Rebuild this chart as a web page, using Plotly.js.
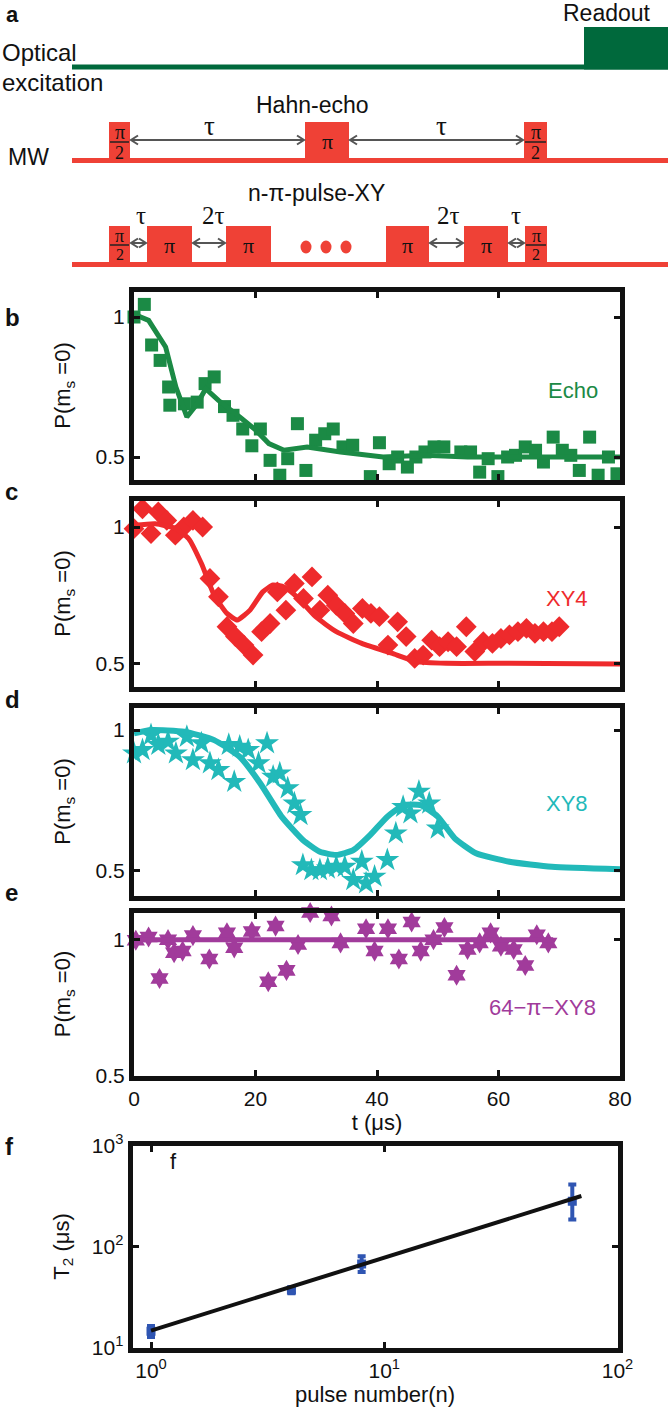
<!DOCTYPE html>
<html><head><meta charset="utf-8">
<script src="https://cdn.plot.ly/plotly-3.0.1.min.js"></script>
<style>html,body{margin:0;padding:0;background:#fff}#chart{width:668px;height:1419px}</style>
</head><body><div id="chart"></div>
<script>
// ---------- DATA ----------
const tTicks = [0, 20, 40, 60, 80];
const pTicks = [0.5, 1];
const pTickText = ['0.5', '1'];

// b: Hahn echo
const echoT = [0,1.7,2.9,4.3,5.7,5.9,8.3,10.4,11.7,13.2,14.9,16.3,17.9,19.4,20.8,22.4,24.0,25.3,26.9,28.3,29.9,31.4,32.8,34.4,36.0,37.5,38.9,40.4,42.0,43.4,45.0,46.4,47.9,49.4,51.0,53.8,55.4,56.9,58.3,59.9,61.5,62.8,64.4,66.1,67.4,69.0,70.5,71.9,73.3,75.0,76.4,78.1,79.5];
const echoP = [1.0,1.045,0.9,0.845,0.75,0.685,0.69,0.696,0.762,0.786,0.68,0.649,0.60,0.54,0.60,0.488,0.435,0.494,0.619,0.452,0.56,0.583,0.60,0.536,0.542,0.405,0.43,0.551,0.476,0.5,0.464,0.5,0.518,0.536,0.536,0.518,0.518,0.446,0.494,0.43,0.5,0.506,0.536,0.524,0.482,0.571,0.524,0.506,0.452,0.571,0.435,0.5,0.44];
const echoFitT = [0,2.4,5.2,6.9,8.7,10.4,11.8,13.9,17.4,20.1,22.2,24.7,28.5,34,41,47.9,54.9,61.8,68.8,80];
const echoFitP = [1.01,0.988,0.893,0.75,0.643,0.69,0.744,0.702,0.643,0.595,0.548,0.524,0.536,0.518,0.5,0.506,0.5,0.5,0.5,0.5];

// c: XY4
const xy4T = [0,1.4,2.8,4.0,5.4,6.8,8.2,9.7,11.3,12.5,13.9,15.3,16.7,18.1,19.6,21.0,22.4,23.6,25.0,26.4,27.9,29.3,30.6,31.9,33.3,34.7,36.1,37.6,39.0,40.4,41.8,43.4,44.8,46.2,47.6,49.0,50.3,51.7,53.1,54.7,56.1,57.5,59.0,60.4,61.8,63.2,64.6,66.0,67.4,68.8,70.0];
const xy4P = [0.994,1.067,0.976,1.055,1.024,0.97,1.0,1.024,1.0,0.811,0.744,0.634,0.598,0.567,0.53,0.616,0.646,0.762,0.695,0.793,0.738,0.817,0.695,0.75,0.713,0.683,0.646,0.701,0.683,0.671,0.567,0.652,0.598,0.518,0.53,0.585,0.561,0.579,0.561,0.634,0.543,0.579,0.573,0.591,0.604,0.616,0.628,0.61,0.616,0.616,0.634];
const xy4FitT = [0,3.5,6.9,9.0,11.1,13.2,15.3,17.0,19.1,21.2,22.9,24.7,27.1,29.9,33.3,37.5,42.4,46.5,51.4,61.8,80];
const xy4FitP = [1.006,1.012,0.994,0.957,0.866,0.75,0.683,0.659,0.695,0.762,0.787,0.78,0.738,0.671,0.616,0.573,0.537,0.506,0.5,0.5,0.497];

// d: XY8
const xy8T = [0,1.4,2.8,4.0,5.6,6.9,8.7,9.7,11.1,12.5,13.9,15.6,16.5,17.4,18.8,20.5,21.9,22.9,24.0,25.3,26.4,27.4,27.8,29.2,30.6,31.9,33.3,34.7,36.1,37.5,38.2,39.6,41.0,41.7,43.1,44.3,45.5,46.9,48.6,50.0];
const xy8P = [0.917,0.929,0.982,0.947,0.959,0.917,0.976,0.893,0.953,0.882,0.858,0.947,0.816,0.941,0.929,0.882,0.953,0.834,0.846,0.793,0.739,0.698,0.52,0.502,0.502,0.508,0.514,0.514,0.467,0.532,0.455,0.479,0.402,0.538,0.633,0.727,0.704,0.781,0.739,0.65];
const xy8FitT = [0,2.8,8.3,13.2,17.4,20.8,24.3,27.8,30.6,33.3,36.1,38.9,41.7,44.4,47.2,50,52.8,56.3,61.8,68.8,80];
const xy8FitP = [0.988,1.0,0.994,0.964,0.905,0.81,0.692,0.609,0.567,0.556,0.573,0.627,0.692,0.733,0.733,0.692,0.615,0.562,0.532,0.514,0.505];

// e: 64-pi-XY8
const xy64T = [0.3,2.4,4.2,5.6,6.6,8.0,9.7,12.4,15.3,16.5,19.4,22.1,23.3,25.1,27.0,29.0,32.5,34.0,38.2,39.6,41.8,43.6,45.7,47.2,49.3,51.1,53.1,54.9,56.9,58.7,60.4,62.5,64.4,66.3,68.2];
const xy64P = [0.998,1.01,0.857,1.0,0.952,0.958,1.015,0.929,1.025,0.97,1.03,0.845,1.05,0.887,0.982,1.1,1.087,0.988,1.04,0.958,1.04,0.929,1.065,0.958,1.0,1.045,0.869,0.964,0.988,1.025,0.976,0.964,0.905,1.018,0.988];
const xy64FitT = [0, 69];
const xy64FitP = [1, 1];

// f: T2 vs pulse number
const pulseN = [1, 4, 8, 64];
const T2 = [14.5, 37, 67, 280];
const T2errPlus = [1.8, 2.5, 13, 130];
const T2errMinus = [1.8, 2.5, 11, 95];
const fitN = [1, 70];
const fitT2 = [14.7, 316];
const nTicks = [1, 10, 100];
const nTickText = ['10<sup>0</sup>', '10<sup>1</sup>', '10<sup>2</sup>'];
const T2Ticks = [10, 100, 1000];
const T2TickText = ['10<sup>1</sup>', '10<sup>2</sup>', '10<sup>3</sup>'];

// ---------- LAYOUT HELPERS ----------
const W = 668, H = 1419;
const px = p => p / W, py = p => 1 - p / H;
function yAx(T, B, p1, p05) {
  const s = (p05 - p1) / 0.5, ti = T + 2.5, bi = B - 2.5;
  return { domain: [py(bi), py(ti)], range: [1 - (bi - p1) / s, 1 + (p1 - ti) / s] };
}
const C = { green: '#1b8a45', red: '#ee2a2c', cyan: '#22b9b9', mag: '#a13b9b', blue: '#2f55b2',
  pulse: '#ef4136', optical: '#00693c', arrow: '#555555', frame: '#111111' };
const FONT = 'Liberation Sans, Arial, sans-serif';
const SERIF = 'Liberation Serif, Times New Roman, serif';
const frame = { showline: true, mirror: 'ticks', linewidth: 5, linecolor: C.frame, ticks: 'inside',
  ticklen: 6, tickwidth: 3, tickcolor: C.frame, showgrid: false, zeroline: false,
  tickfont: { size: 21, color: '#111', family: FONT } };
const yTitle = { text: 'P(m<sub>s</sub> =0)', font: { size: 22, family: FONT }, standoff: 20 };

function xT(anchor, labels) {
  return Object.assign({}, frame, { anchor, domain: [px(134), px(620)], range: [0, 80],
    tickvals: tTicks, ticktext: tTicks.map(String), showticklabels: labels });
}
function yP(anchor, geo) {
  return Object.assign({}, frame, { anchor, domain: geo.domain, range: geo.range,
    tickvals: pTicks, ticktext: pTickText, title: yTitle });
}

// ---------- TRACES ----------
const traces = [];
function series(x, y, xa, ya, color, symbol, size) {
  traces.push({ type: 'scatter', mode: 'markers', x, y, xaxis: xa, yaxis: ya, cliponaxis: false,
    marker: { symbol, size, color, line: { width: 0 } }, showlegend: false, hoverinfo: 'x+y' });
}
function fit(x, y, xa, ya, color, width, smooth) {
  traces.push({ type: 'scatter', mode: 'lines', x, y, xaxis: xa, yaxis: ya,
    line: smooth ? { color, width, shape: 'spline', smoothing: smooth } : { color, width },
    showlegend: false, hoverinfo: 'skip' });
}
series(echoT, echoP, 'x', 'y', C.green, 'square', 13);
fit(echoFitT, echoFitP, 'x', 'y', C.green, 5, 0);
series(xy4T, xy4P, 'x2', 'y2', C.red, 'diamond', 16);
fit(xy4FitT, xy4FitP, 'x2', 'y2', C.red, 5, 0.5);
series(xy8T, xy8P, 'x3', 'y3', C.cyan, 'star', 18);
fit(xy8FitT, xy8FitP, 'x3', 'y3', C.cyan, 6, 0.5);
series(xy64T, xy64P, 'x4', 'y4', C.mag, 'hexagram', 16);
fit(xy64FitT, xy64FitP, 'x4', 'y4', C.mag, 5, 0);
traces.push({ type: 'scatter', mode: 'markers', x: pulseN, y: T2, xaxis: 'x5', yaxis: 'y5',
  marker: { symbol: 'square', size: 9, color: C.blue },
  error_y: { type: 'data', array: T2errPlus, arrayminus: T2errMinus, color: C.blue, thickness: 4, width: 4 },
  showlegend: false });
traces.push({ type: 'scatter', mode: 'lines', x: fitN, y: fitT2, xaxis: 'x5', yaxis: 'y5',
  line: { color: C.frame, width: 4 }, showlegend: false, hoverinfo: 'skip' });
// schematic canvas axes (panel a)
traces.push({ type: 'scatter', mode: 'markers', x: [], y: [], xaxis: 'x6', yaxis: 'y6', showlegend: false, hoverinfo: 'skip' });

// ---------- SCHEMATIC (panel a) ----------
const schem = {
  optical: [72, 668, 64.5, 69.5], readout: [584, 668, 27, 69.5],
  hahnLine: [72, 668, 158, 163], hahnTop: 122,
  hahnPulses: [[109, 130, 'half'], [305, 349, 'pi'], [524, 547, 'half']],
  hahnPiY: 141, hahnHalf: [132, 142, 152.5],
  xyLine: [72, 668, 262, 267], xyTop: 226,
  xyPulses: [[109, 130, 'half'], [147, 192, 'pi'], [226, 271, 'pi'], [386, 429, 'pi'], [464, 508, 'pi'], [525, 547, 'half']],
  xyPiY: 245, xyHalf: [236, 245, 254.5],
  dots: [306, 326, 346], dotY: 247, dotR: 5.5,
  hahnArrows: [[131, 304], [350, 523]], hahnArrowY: 140,
  xyArrows: [[131, 146], [193, 225], [430, 463], [509, 524]], xyArrowY: 243,
  hahnTau: [[209, 'τ'], [441, 'τ']], hahnTauY: 126,
  xyTau: [[141, 'τ'], [213, '2τ'], [448, '2τ'], [516, 'τ']], xyTauY: 215
};
const shapes = [];
const ann = [];
const rect = (r, color) => shapes.push({ type: 'rect', xref: 'x6', yref: 'y6', x0: r[0], x1: r[1], y0: r[2], y1: r[3], fillcolor: color, line: { width: 0 }, layer: 'above' });
rect(schem.optical, C.optical);
rect(schem.readout, C.optical);
rect(schem.hahnLine, C.pulse);
rect(schem.xyLine, C.pulse);
const txt = (x, y, text, size, family, extra) => ann.push(Object.assign({ xref: 'x6', yref: 'y6', x, y, text, showarrow: false,
  font: { size, family: family || FONT, color: '#111' }, xanchor: 'center', yanchor: 'middle' }, extra || {}));
function pulses(list, top, line, piY, half, piSize, halfSize) {
  list.forEach(([a, b, kind]) => {
    rect([a, b, top, line[3]], C.pulse);
    const cx = (a + b) / 2;
    if (kind === 'pi') txt(cx, piY, 'π', piSize, SERIF);
    else {
      txt(cx, half[0], 'π', halfSize, SERIF);
      shapes.push({ type: 'line', xref: 'x6', yref: 'y6', x0: a + 1, x1: b - 1, y0: half[1], y1: half[1], line: { color: '#222', width: 1.5 }, layer: 'above' });
      txt(cx, half[2], '2', halfSize - 2, SERIF);
    }
  });
}
pulses(schem.hahnPulses, schem.hahnTop, schem.hahnLine, schem.hahnPiY, schem.hahnHalf, 22, 20);
pulses(schem.xyPulses, schem.xyTop, schem.xyLine, schem.xyPiY, schem.xyHalf, 22, 18);
schem.dots.forEach(x => shapes.push({ type: 'circle', xref: 'x6', yref: 'y6', x0: x - schem.dotR, x1: x + schem.dotR,
  y0: schem.dotY - schem.dotR - 1, y1: schem.dotY + schem.dotR + 1, fillcolor: C.pulse, line: { width: 0 }, layer: 'above' }));
// double-headed arrows as shapes: shaft + two chevron heads
function arrows(list, y) {
  const hl = 7, hw = 4.5;
  list.forEach(([a, b]) => {
    shapes.push({ type: 'line', xref: 'x6', yref: 'y6', x0: a + 1, x1: b - 1, y0: y, y1: y, line: { color: C.arrow, width: 2 }, layer: 'above' });
    shapes.push({ type: 'path', xref: 'x6', yref: 'y6', layer: 'above', line: { color: C.arrow, width: 2 },
      path: `M${a + hl},${y - hw} L${a},${y} L${a + hl},${y + hw}` });
    shapes.push({ type: 'path', xref: 'x6', yref: 'y6', layer: 'above', line: { color: C.arrow, width: 2 },
      path: `M${b - hl},${y - hw} L${b},${y} L${b - hl},${y + hw}` });
  });
}
arrows(schem.hahnArrows, schem.hahnArrowY);
arrows(schem.xyArrows, schem.xyArrowY);
schem.hahnTau.forEach(([x, t]) => txt(x, schem.hahnTauY, t, 27, SERIF));
schem.xyTau.forEach(([x, t]) => txt(x, schem.xyTauY, t, 25, SERIF));
txt(312, 105, 'Hahn-echo', 23);
txt(316, 193, 'n-π-pulse-XY', 23);
txt(0, 52, 'Optical', 24, FONT, { xanchor: 'left' });
txt(0, 82, 'excitation', 24, FONT, { xanchor: 'left' });
txt(607, 13, 'Readout', 23);
txt(28, 157, 'MW', 23);
txt(4, 14, '<b>a</b>', 22, FONT, { xanchor: 'left' });

// panel letters
[['b', 317], ['c', 491], ['d', 699], ['e', 892], ['f', 1146]].forEach(([l, y]) =>
  ann.push({ xref: 'paper', yref: 'paper', x: px(3), y: py(y), text: '<b>' + l + '</b>', showarrow: false,
    xanchor: 'left', yanchor: 'middle', font: { size: 24, family: FONT, color: '#111' } }));
ann.push({ xref: 'paper', yref: 'paper', x: px(168), y: py(1176), text: 'f', showarrow: false,
  font: { size: 22, family: FONT, color: '#111' } });
// series labels
[['Echo', 'x', 'y', 72.2, 0.738, C.green], ['XY4', 'x2', 'y2', 71.2, 0.738, C.red],
 ['XY8', 'x3', 'y3', 71.3, 0.74, C.cyan], ['64−π−XY8', 'x4', 'y4', 67.2, 0.75, C.mag]].forEach(([t, xa, ya, x, y, c]) =>
  ann.push({ xref: xa, yref: ya, x, y, text: t, showarrow: false, font: { size: 22, family: FONT, color: c } }));

const layout = {
  width: W, height: H, margin: { l: 0, r: 0, t: 0, b: 0 }, paper_bgcolor: '#fff', plot_bgcolor: 'rgba(0,0,0,0)',
  font: { family: FONT, color: '#111' }, showlegend: false,
  xaxis: xT('y', false), yaxis: yP('x', yAx(289, 482, 317, 457)),
  xaxis2: xT('y2', false), yaxis2: yP('x2', yAx(498, 689, 527, 663.3)),
  xaxis3: xT('y3', false), yaxis3: yP('x3', yAx(705, 898, 730, 870.7)),
  xaxis4: Object.assign(xT('y4', true), { title: { text: 't (μs)', font: { size: 22, family: FONT }, standoff: 2 } }),
  yaxis4: yP('x4', { domain: [py(1075.5), py(912.5)], range: [0.5, 1.1] }),
  xaxis5: Object.assign({}, frame, { anchor: 'y5', type: 'log', domain: [px(132.5), px(617.5)], range: [-0.0793, 2],
    tickvals: nTicks, ticktext: nTickText, title: { text: 'pulse number(n)', font: { size: 22, family: FONT }, standoff: 6 } }),
  yaxis5: Object.assign({}, frame, { anchor: 'x5', type: 'log', domain: [py(1347.5), py(1145.5)], range: [1, 3],
    tickvals: T2Ticks, ticktext: T2TickText, title: { text: 'T<sub>2</sub> (μs)', font: { size: 22, family: FONT }, standoff: 18 } }),
  xaxis6: { anchor: 'y6', domain: [0, 1], range: [0, W], visible: false, fixedrange: true },
  yaxis6: { anchor: 'x6', domain: [py(290), 1], range: [290, 0], visible: false, fixedrange: true },
  shapes, annotations: ann
};
Plotly.newPlot('chart', traces, layout, { displayModeBar: false, staticPlot: true });
</script></body></html>
